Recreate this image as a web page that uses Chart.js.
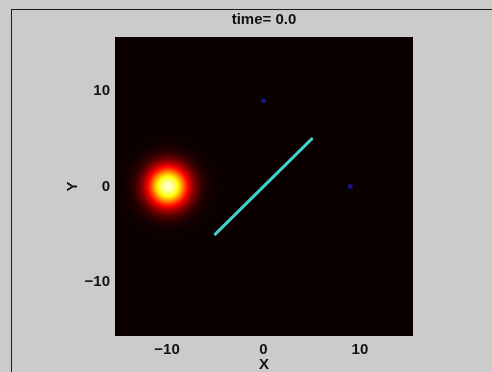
<!DOCTYPE html>
<html>
<head>
<meta charset="utf-8">
<script src="https://cdn.jsdelivr.net/npm/chart.js@4"></script>
<style>
  html, body { margin: 0; padding: 0; background: #cbcbcb; overflow: hidden; }
  #frame { position: absolute; left: 11px; top: 9px; width: 600px; height: 500px;
           border-left: 1.5px solid #1c1c1c; border-top: 1.5px solid #1c1c1c; }
  #wrap { position: absolute; left: 0; top: 0; width: 492px; height: 372px; }
</style>
</head>
<body>
<div id="frame"></div>
<div id="wrap"><canvas id="plot" width="492" height="372"></canvas></div>
<script>
// Snapshot of the field at t = 0
const titleText = 'time= 0.0';
const xLimits = [-15.4, 15.5];
const yLimits = [-15.7, 15.7];
const tickValues = [-10, 0, 10];

// gaussian hot spot
const blobCenter = [-9.9, 0];
const blobSigma = 1.5;
const blobPeak = 0.95;

// rod and the two markers
const rodX = [-5, 5];
const rodY = [-5, 5];
const markerX = [0, 9];
const markerY = [9, 0];

// matplotlib "hot" colormap
function hotColor(v) {
    const clamp = t => Math.max(0, Math.min(1, t));
    const r = clamp(0.0416 + (1 - 0.0416) * v / 0.365);
    const g = clamp((v - 0.365) / (0.746 - 0.365));
    const b = clamp((v - 0.746) / (1 - 0.746));
    return 'rgb(' + Math.round(r * 255) + ',' + Math.round(g * 255) + ',' + Math.round(b * 255) + ')';
}

const fieldPlugin = {
    id: 'field',
    beforeDatasetsDraw(chart) {
        const { ctx, chartArea: a, scales: { x, y } } = chart;
        ctx.save();
        ctx.beginPath();
        ctx.rect(a.left, a.top, a.width, a.height);
        ctx.clip();
        ctx.fillStyle = hotColor(0);
        ctx.fillRect(a.left, a.top, a.width, a.height);

        const cx = x.getPixelForValue(blobCenter[0]);
        const cy = y.getPixelForValue(blobCenter[1]);
        const sig = Math.abs(x.getPixelForValue(blobCenter[0] + blobSigma) - cx);
        const R = sig * 4;
        const grad = ctx.createRadialGradient(cx, cy, 0, cx, cy, R);
        for (let i = 0; i <= 60; i++) {
            const r = i / 60 * R;
            grad.addColorStop(i / 60, hotColor(blobPeak * Math.exp(-r * r / (2 * sig * sig))));
        }
        ctx.fillStyle = grad;
        ctx.fillRect(cx - R, cy - R, 2 * R, 2 * R);
        ctx.restore();
    }
};

const tickFont = { family: 'Liberation Sans', size: 15, weight: 'bold' };
const labelFont = { family: 'Liberation Sans', size: 15, weight: 'bold', lineHeight: 1 };
const fmt = v => v < 0 ? '\u2212' + Math.abs(v) : String(v);
const fixTicks = scale => { scale.ticks = tickValues.map(v => ({ value: v })); };

new Chart(document.getElementById('plot'), {
    type: 'scatter',
    data: {
        datasets: [
            {
                data: rodX.map((v, i) => ({ x: v, y: rodY[i] })),
                showLine: true,
                borderColor: '#40d2ca',
                borderWidth: 3,
                borderCapStyle: 'round',
                pointRadius: 0
            },
            {
                data: markerX.map((v, i) => ({ x: v, y: markerY[i] })),
                backgroundColor: '#16147e',
                borderWidth: 0,
                pointRadius: 2.5
            }
        ]
    },
    options: {
        responsive: false,
        animation: false,
        devicePixelRatio: 1,
        layout: { padding: { left: 60, right: 79, top: 0, bottom: 0 } },
        plugins: { legend: { display: false }, tooltip: { enabled: false } },
        scales: {
            x: {
                type: 'linear', position: 'bottom',
                min: xLimits[0], max: xLimits[1],
                grid: { display: false, drawTicks: false }, border: { display: false },
                afterBuildTicks: fixTicks,
                afterFit: s => { s.height = 36; },
                ticks: { font: tickFont, color: '#111', padding: 5, maxRotation: 0, callback: fmt },
                title: { display: true, text: 'X', font: labelFont, color: '#111', padding: 0 }
            },
            top: {
                type: 'linear', position: 'top',
                min: xLimits[0], max: xLimits[1],
                grid: { display: false, drawTicks: false }, border: { display: false },
                ticks: { display: false },
                afterFit: s => { s.height = 37; },
                title: { display: true, text: titleText, font: labelFont, color: '#111', padding: { top: 12, bottom: 0 } }
            },
            y: {
                type: 'linear', position: 'left',
                min: yLimits[0], max: yLimits[1],
                grid: { display: false, drawTicks: false }, border: { display: false },
                afterBuildTicks: fixTicks,
                afterFit: s => { s.width = 55; },
                ticks: { font: tickFont, color: '#111', padding: 5, callback: fmt },
                title: { display: true, text: 'Y', font: labelFont, color: '#111', padding: { top: 5, bottom: 0 } }
            }
        }
    },
    plugins: [fieldPlugin]
});
</script>
</body>
</html>
